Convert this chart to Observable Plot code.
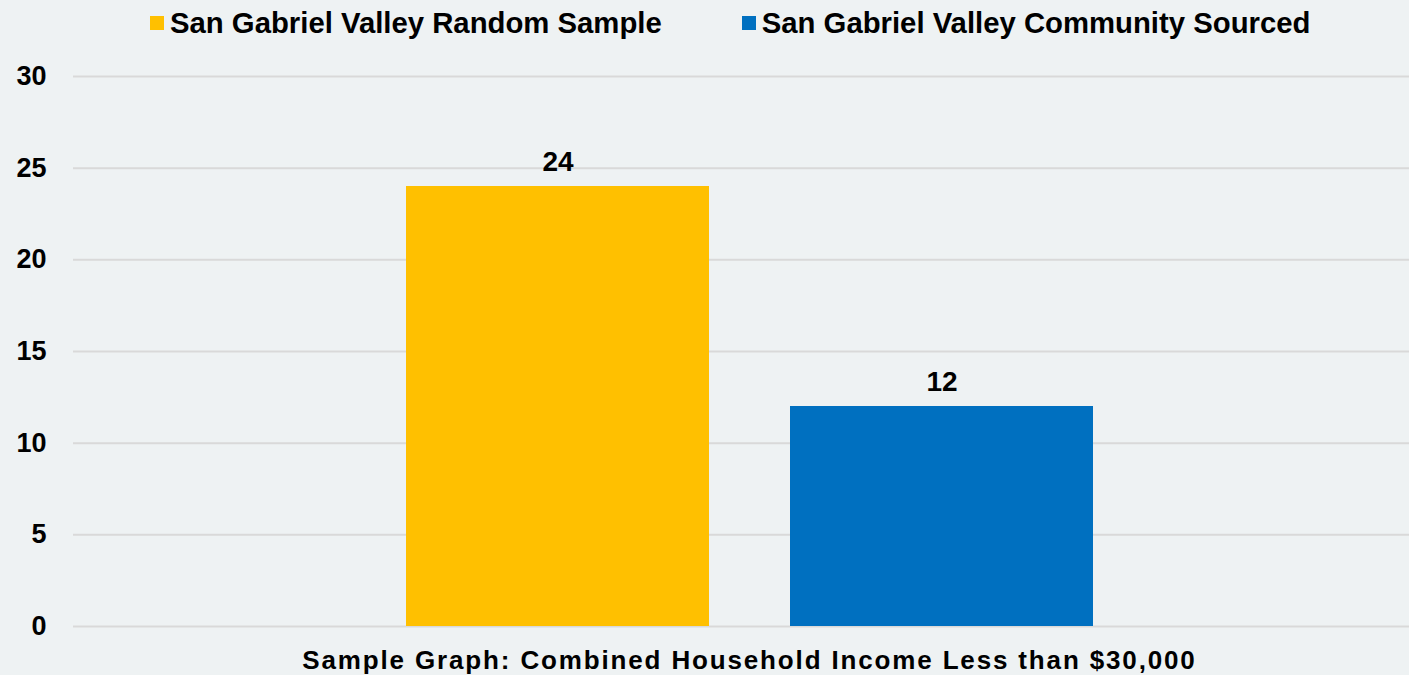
<!DOCTYPE html>
<html>
<head>
<meta charset="utf-8">
<script src="https://cdn.jsdelivr.net/npm/d3@7"></script>
<script src="https://cdn.jsdelivr.net/npm/@observablehq/plot@0.6"></script>
<style>
  html, body { margin: 0; padding: 0; background: #EEF2F3; }
  body { width: 1409px; height: 675px; overflow: hidden; font-family: "Liberation Sans", Arial, sans-serif; }
  #legend { height: 45px; display: flex; align-items: center; padding-left: 150px; gap: 80px; font-weight: bold; font-size: 29.3px; color: #000; }
  .item { display: flex; align-items: center; white-space: nowrap; }
  .sw { width: 14px; height: 14px; margin-right: 6px; }
</style>
</head>
<body>
<div id="legend"></div>
<div id="chart"></div>
<script>
const categories = ["San Gabriel Valley Random Sample", "San Gabriel Valley Community Sourced"];
const values = [24, 12];
const colors = ["#FFC000", "#0070C0"];
const yTicks = [0, 5, 10, 15, 20, 25, 30];
const xTitle = "Sample Graph: Combined Household Income Less than $30,000";

const data = categories.map((c, i) => ({category: c, value: values[i]}));

const legend = document.getElementById("legend");
categories.forEach((c, i) => {
  const item = document.createElement("div");
  item.className = "item";
  const sw = document.createElement("span");
  sw.className = "sw";
  sw.style.background = colors[i];
  item.appendChild(sw);
  item.appendChild(document.createTextNode(c));
  legend.appendChild(item);
});

const chart = Plot.plot({
  width: 1409,
  height: 630,
  marginLeft: 73,
  marginRight: 0,
  marginTop: 31,
  marginBottom: 49,
  style: {background: "transparent", fontFamily: "Liberation Sans, Arial, sans-serif"},
  x: {domain: categories, range: [97, 1402], paddingInner: 0.21, paddingOuter: 0.8, align: 0.5, axis: null},
  y: {domain: [0, 30], ticks: yTicks},
  color: {domain: categories, range: colors},
  marks: [
    Plot.gridY(yTicks, {stroke: "#D9D9D9", strokeOpacity: 1, strokeWidth: 2}),
    Plot.axisY(yTicks, {tickSize: 0, tickPadding: 27, fontSize: 27, fontWeight: "bold", fill: "#000", label: null}),
    Plot.barY(data, {x: "category", y: "value", fill: "category"}),
    Plot.text(data, {x: "category", y: "value", text: d => String(d.value), lineAnchor: "bottom", dy: -16, fontSize: 28, fontWeight: "bold", fill: "#000"}),
    Plot.text([xTitle], {frameAnchor: "bottom", dy: 34, dx: 8, lineAnchor: "middle", fontSize: 26, fontWeight: "bold", fill: "#000"})
  ]
});
d3.select(chart).selectAll("text")
  .filter(function() { return this.textContent === xTitle; })
  .style("letter-spacing", "1.85px");
document.getElementById("chart").appendChild(chart);
</script>
</body>
</html>
